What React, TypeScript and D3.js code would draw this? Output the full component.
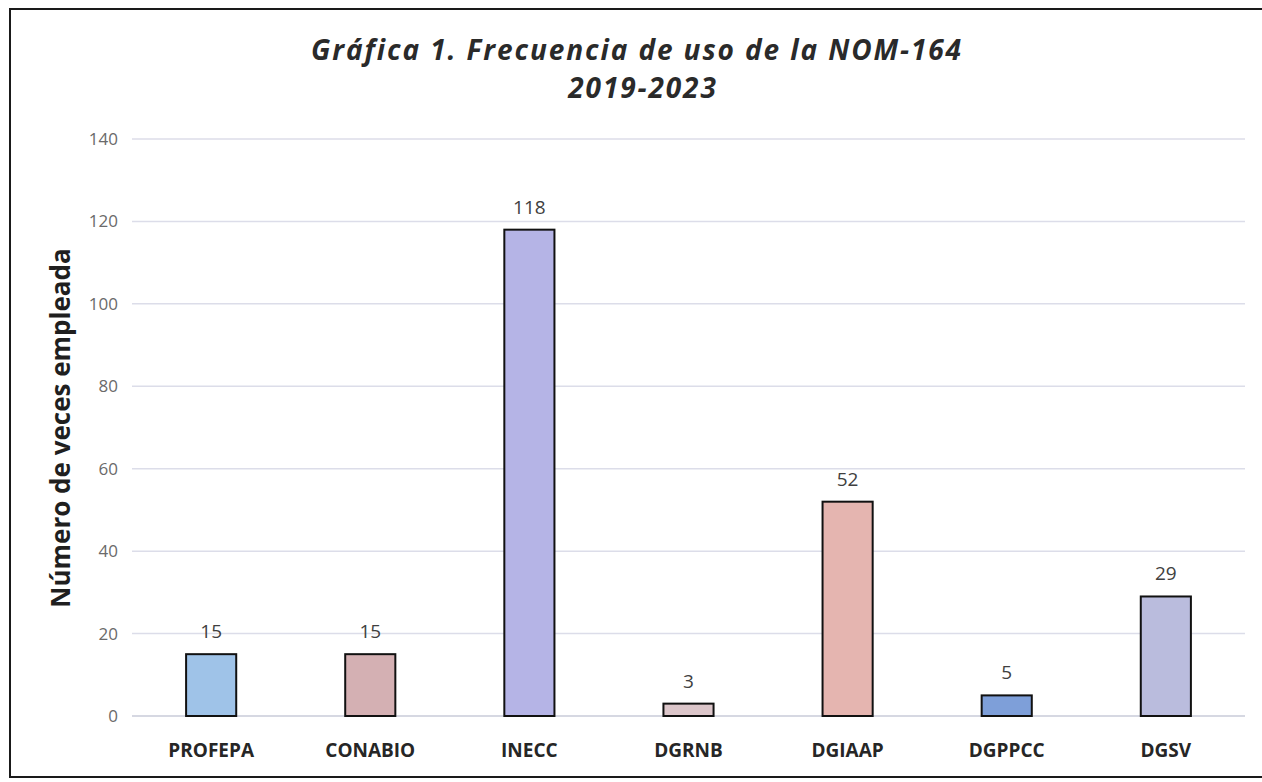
import React from 'react';
import * as d3 from 'd3';

const categories = ['PROFEPA', 'CONABIO', 'INECC', 'DGRNB', 'DGIAAP', 'DGPPCC', 'DGSV'];
const values = [15, 15, 118, 3, 52, 5, 29];
const barColors = ['#9fc3e8', '#d4b0b3', '#b5b4e6', '#dcc6ca', '#e5b5b0', '#7e9fd9', '#babcdd'];
const yTicks = [0, 20, 40, 60, 80, 100, 120, 140];

const W = 1262;
const H = 782;
const PLOT = { left: 132, right: 1245, top: 139, bottom: 716 };
const FONT = "'Open Sans', 'Noto Sans', sans-serif";

const App: React.FC = () => {
  const x = d3.scaleBand<string>()
    .domain(categories)
    .range([PLOT.left, PLOT.right])
    .paddingInner(0.685)
    .paddingOuter(0.34);

  const y = d3.scaleLinear().domain([0, 140]).range([PLOT.bottom, PLOT.top]);

  return (
    <svg width={W} height={H} style={{ position: 'absolute', left: 0, top: 0, background: '#fff' }}>
      {/* chart frame, right edge runs off the page */}
      <rect x={10} y={9} width={1270} height={768} fill="#fff" stroke="#1a1a1a" strokeWidth={2} />

      {/* title */}
      <text x={637} y={60} textAnchor="middle" fontFamily={FONT} fontWeight={700} fontStyle="italic"
        fontSize={28} letterSpacing={1.9} fill="#2a2a2a">
        Gráfica 1. Frecuencia de uso de la NOM-164
      </text>
      <text x={643} y={98} textAnchor="middle" fontFamily={FONT} fontWeight={700} fontStyle="italic"
        fontSize={28} letterSpacing={1.9} fill="#2a2a2a">
        2019-2023
      </text>

      {/* gridlines + y ticks */}
      {yTicks.map(t => (
        <g key={t}>
          <line x1={PLOT.left} x2={PLOT.right} y1={y(t)} y2={y(t)} stroke={t === 0 ? '#c9cbd9' : '#dcdde9'} strokeWidth={1.5} />
          <text x={118} y={y(t)} dy="0.35em" textAnchor="end" fontFamily={FONT} fontSize={17} fill="#6a6a6a">
            {t}
          </text>
        </g>
      ))}

      {/* y axis title */}
      <text transform={`translate(70, 428) rotate(-90)`} textAnchor="middle" fontFamily={FONT}
        fontWeight={700} fontSize={26} fill="#1f1f1f">
        Número de veces empleada
      </text>

      {/* bars */}
      {categories.map((c, i) => {
        const bx = x(c) ?? 0;
        const bw = x.bandwidth();
        const top = y(values[i]);
        return (
          <g key={c}>
            <rect x={bx} y={top} width={bw} height={y(0) - top} fill={barColors[i]} stroke="#111" strokeWidth={2} />
            <text x={bx + bw / 2} y={top - 16} textAnchor="middle" fontFamily={FONT} fontSize={19} fill="#404040">
              {values[i]}
            </text>
            <text x={bx + bw / 2} y={757} textAnchor="middle" fontFamily={FONT} fontWeight={700}
              fontSize={19} fill="#262626">
              {c}
            </text>
          </g>
        );
      })}
    </svg>
  );
};

export default App;
